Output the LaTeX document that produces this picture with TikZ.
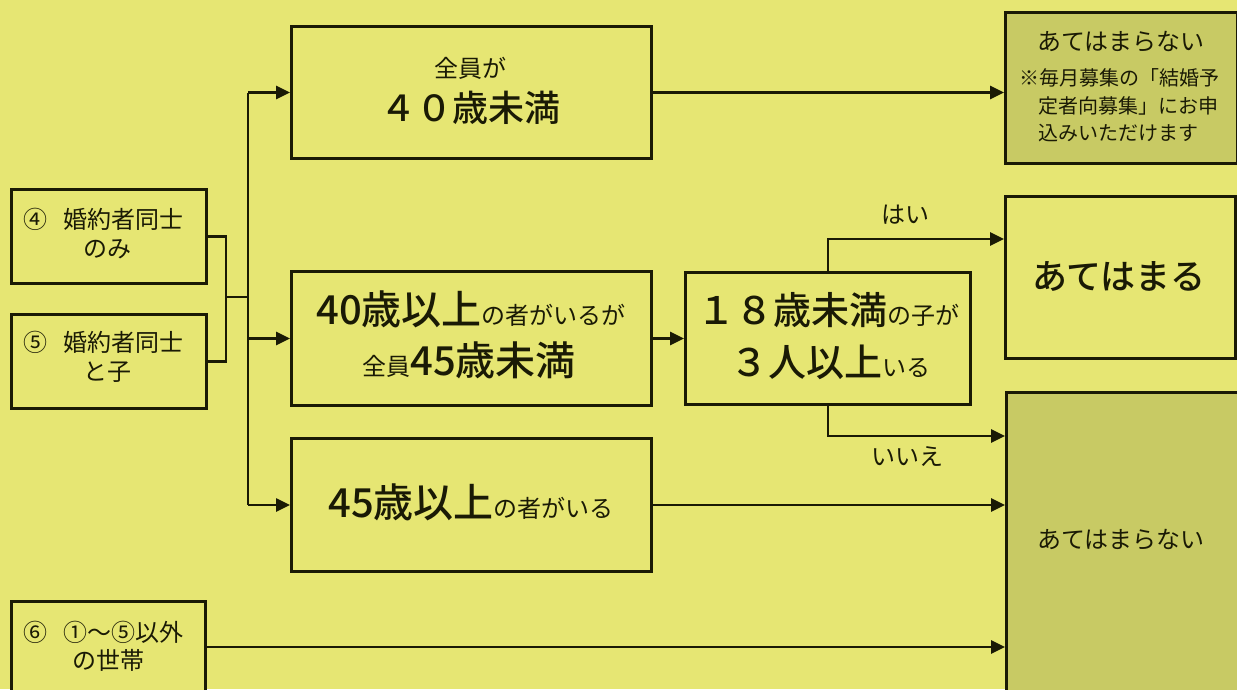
\documentclass[tikz,border=0pt]{standalone}
\usepackage{fontspec}
\setmainfont{Noto Sans CJK JP}[BoldFont={* Medium}]
\usetikzlibrary{arrows.meta}
\definecolor{bg}{HTML}{E6E673}
\definecolor{dk}{HTML}{C8CA64}
\definecolor{ln}{HTML}{1A1A05}
\newcommand\FS[1]{\fontsize{#1}{#1}\selectfont}
\tikzset{
  box/.style={draw=ln, line width=3pt, fill=bg, inner sep=0pt, anchor=north west},
  nbox/.style={box, fill=dk},
  conn/.style={draw=ln, line width=2.6pt},
  arr/.style={conn, -{Triangle[length=14pt,width=13pt]}},
  txt/.style={inner sep=0pt, text=ln, anchor=base},
  txtl/.style={inner sep=0pt, text=ln, anchor=base west},
}
\begin{document}
\begin{tikzpicture}[x=1pt,y=-1pt]
\fill[bg] (0,0) rectangle (1237,689);
\useasboundingbox (0,0) rectangle (1237,689);
% boxes
\node[box, minimum width=195pt, minimum height=94pt] (b4) at (10,188) {};
\node[box, minimum width=195pt, minimum height=94pt] (b5) at (10,313) {};
\node[box, minimum width=194pt, minimum height=120pt] (b6) at (10,600) {};
\node[box, minimum width=360pt, minimum height=132pt] (top) at (290,25) {};
\node[box, minimum width=360pt, minimum height=134pt] (mid) at (290,270) {};
\node[box, minimum width=360pt, minimum height=133pt] (b45) at (290,437) {};
\node[box, minimum width=285pt, minimum height=132pt] (b18) at (684,271) {};
\node[nbox, minimum width=232pt, minimum height=151pt] (tr) at (1004,11) {};
\node[box, minimum width=230pt, minimum height=162pt] (yes) at (1004,195) {};
\node[nbox, minimum width=235pt, minimum height=330pt] (no) at (1005,391) {};
% connectors
\coordinate (j1) at (226,297);
\coordinate (sp) at (248,297);
\coordinate (c6) at (204,647);
\coordinate (yc) at (828,239);
\coordinate (nc) at (828,436);
\draw[conn] (b4.east) -| (j1) |- (b5.east);
\draw[conn] (j1) -- (sp);
\draw[conn] (top.west -| sp) -- (b45.west -| sp);
\draw[arr] (top.west -| sp) -- (top.west);
\draw[arr] (mid.west -| sp) -- (mid.west);
\draw[arr] (b45.west -| sp) -- (b45.west);
\draw[arr] (top.east) -- (top.east -| tr.west);
\draw[arr] (mid.east) -- (b18.west);
\draw[arr] (yc |- b18.north) -- (yc) -- (yc -| yes.west);
\draw[arr] (nc |- b18.south) -- (nc) -- (nc -| no.west);
\draw[arr] (b45.east) -- (b45.east -| no.west);
\draw[arr] (c6) -- (c6 -| no.west);
% texts
\node[txtl] (t4a) at (23,228) {\FS{24}④\hspace{16pt}婚約者同士};
\node[txt] (t4b) at (107,257) {\FS{24}のみ};
\node[txtl] (t5a) at (23,351) {\FS{24}⑤\hspace{16pt}婚約者同士};
\node[txt] (t5b) at (107,380) {\FS{24}と子};
\node[txtl] (t6a) at (23,641) {\FS{24}⑥\hspace{16pt}①〜⑤以外};
\node[txt] (t6b) at (108,669) {\FS{24}の世帯};
\node[txt] (t1a) at (470,77) {\FS{24}全員が};
\node[txt] (t1b) at (470,121) {\FS{36}\bfseries ４０歳未満};
\node[txt] (t2a) at (471,324) {\FS{40}\bfseries 40歳以上\mdseries\FS{24}の者がいるが};
\node[txt] (t2b) at (469,375) {\FS{24}全員\FS{40}\bfseries 45歳未満};
\node[txt] (t3a) at (828,324) {\FS{38}\bfseries １８歳未満\mdseries\FS{24}の子が};
\node[txt] (t3b) at (830,376) {\FS{38}\bfseries ３人以上\mdseries\FS{24}いる};
\node[txt] (t45) at (471,517) {\FS{40}\bfseries 45歳以上\mdseries\FS{24}の者がいる};
\node[txt] (ty) at (905,223) {\FS{24}はい};
\node[txt] (tn) at (907,465) {\FS{24}いいえ};
\node[txt] (tyes) at (1119,289) {\FS{35}\bfseries あてはまる};
\node[txt] (ttr) at (1121,50) {\FS{24}あてはまらない};
\node[txtl] (ttr1) at (1019,85) {\FS{20}※毎月募集の「結婚予};
\node[txtl] (ttr2) at (1038,113) {\FS{20}定者向募集」にお申};
\node[txtl] (ttr3) at (1038,140) {\FS{20}込みいただけます};
\node[txt] (tno) at (1121,548) {\FS{24}あてはまらない};
\end{tikzpicture}
\end{document}
